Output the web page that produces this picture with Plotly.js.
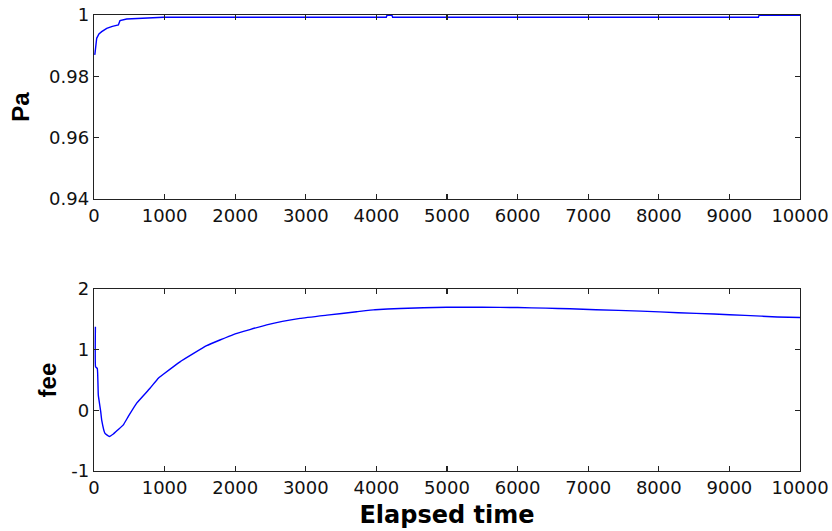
<!DOCTYPE html>
<html>
<head>
<meta charset="utf-8">
<script src="https://cdn.plot.ly/plotly-3.0.1.min.js"></script>
<style>html,body{margin:0;padding:0;background:#fff;}#chart{width:832px;height:531px;}</style>
</head>
<body>
<div id="chart"></div>
<script>
// Upper panel: Pa vs elapsed time
var paTime = [10, 14, 38, 70, 109, 180, 260, 345, 368, 463, 982, 4140, 4150, 4220, 4230, 9410, 9420, 10000];
var paValue = [0.987, 0.9875, 0.9924, 0.9938, 0.99456, 0.99566, 0.9963, 0.99674, 0.99815, 0.9987, 0.99925, 0.99925, 0.9999, 0.9999, 0.99925, 0.99925, 0.9999, 0.9999];

// Lower panel: fee vs elapsed time
var feeTime = [20, 22, 47, 61, 95, 109, 156, 217, 274, 340, 415, 486, 605, 793, 911, 982, 1218, 1596, 1973, 2446, 2918, 3300, 3720, 3980, 4334, 4995, 5500, 6000, 6400, 6742, 7110, 7748, 8276, 8782, 9220, 9679, 10000];
var feeValue = [1.38, 0.72, 0.69, 0.25, -0.02, -0.16, -0.38, -0.43, -0.39, -0.32, -0.24, -0.10, 0.12, 0.364, 0.53, 0.595, 0.80, 1.066, 1.25, 1.41, 1.517, 1.57, 1.626, 1.66, 1.68, 1.70, 1.70, 1.695, 1.685, 1.675, 1.66, 1.637, 1.61, 1.588, 1.566, 1.54, 1.53];

var xTickVals = [0, 1000, 2000, 3000, 4000, 5000, 6000, 7000, 8000, 9000, 10000];
var paTicks = [0.94, 0.96, 0.98, 1];
var feeTicks = [-1, 0, 1, 2];
var feeTickText = ['-1', '0', '1', '2'];

var tickFont = {family: 'DejaVu Sans', size: 18, color: '#111'};
var lineColor = '#0000ff';

var traces = [
  {x: paTime, y: paValue, xaxis: 'x', yaxis: 'y', type: 'scatter', mode: 'lines',
   line: {color: lineColor, width: 1.4}, showlegend: false, hoverinfo: 'skip'},
  {x: feeTime, y: feeValue, xaxis: 'x2', yaxis: 'y2', type: 'scatter', mode: 'lines',
   line: {color: lineColor, width: 1.4, shape: 'spline', smoothing: 0.3}, showlegend: false, hoverinfo: 'skip'}
];

function axisBase() {
  return {
    showgrid: false, zeroline: false, showline: true, linecolor: '#222', linewidth: 1.2,
    mirror: 'ticks', ticks: 'inside', ticklen: 5, tickwidth: 1.2, tickcolor: '#222',
    tickfont: tickFont
  };
}

var xa = Object.assign(axisBase(), {domain: [0, 1], anchor: 'y', range: [0, 10000], tickvals: xTickVals, tickformat: 'd'});
var ya = Object.assign(axisBase(), {domain: [0.5965, 1], anchor: 'x', range: [0.94, 1], tickvals: paTicks,
  title: {text: 'Pa', font: {family: 'Liberation Sans', size: 24, weight: 'bold', color: '#000'}, standoff: 12}});
var xa2 = Object.assign(axisBase(), {domain: [0, 1], anchor: 'y2', range: [0, 10000], tickvals: xTickVals, tickformat: 'd',
  title: {text: 'Elapsed time', font: {family: 'DejaVu Sans', size: 24, weight: 'bold', color: '#000'}, standoff: 9}});
var ya2 = Object.assign(axisBase(), {domain: [0, 0.399], anchor: 'x2', range: [-1, 2], tickvals: feeTicks, ticktext: feeTickText,
  title: {text: 'fee', font: {family: 'Liberation Sans', size: 24, weight: 'bold', color: '#000'}, standoff: 7}});

var layout = {
  width: 832, height: 531,
  margin: {l: 94, r: 32, t: 15, b: 60},
  paper_bgcolor: '#fff', plot_bgcolor: '#fff',
  xaxis: xa, yaxis: ya, xaxis2: xa2, yaxis2: ya2
};

Plotly.newPlot('chart', traces, layout, {displayModeBar: false, staticPlot: true});
</script>
</body>
</html>
